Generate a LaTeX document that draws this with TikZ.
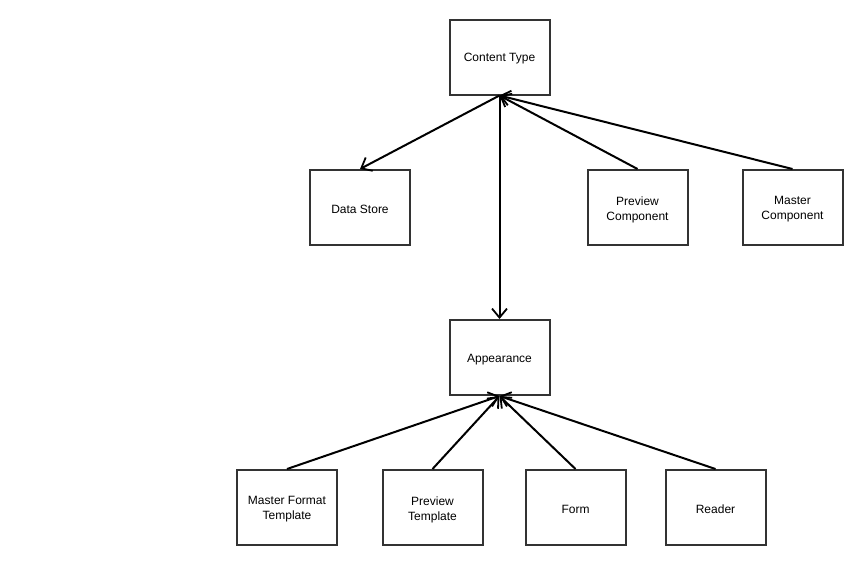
\documentclass[tikz,border=0pt]{standalone}
\usepackage{fontspec}
\setmainfont{Liberation Sans}
\usetikzlibrary{arrows.meta}
\begin{document}
\begin{tikzpicture}[x=1pt,y=-1pt,
  box/.style={draw=black!80,line width=2pt,minimum width=100pt,minimum height=75pt,inner sep=0pt},
  txt/.style={yshift=-2pt,align=center,font=\fontsize{12}{15}\selectfont,inner sep=0pt},
  conn/.style={line width=2pt,-{Straight Barb[length=9pt,width=15pt,line width=1.8pt]}}]
\useasboundingbox (0,0) rectangle (868,565);
\node[box,label={[txt]center:Content Type}] (ct) at (499.5,57) {};
\node[box,label={[txt]center:Data Store}] (ds) at (360,207.5) {};
\node[box,label={[txt]center:{Preview\\Component}}] (pc) at (637.5,207.5) {};
\node[box,label={[txt]center:{Master\\Component}}] (mc) at (792.5,207.5) {};
\node[box,label={[txt]center:Appearance}] (ap) at (499.5,357.5) {};
\node[box,label={[txt]center:{Master Format\\Template}}] (mft) at (287,507.5) {};
\node[box,label={[txt]center:{Preview\\Template}}] (pt) at (432.5,507.5) {};
\node[box,label={[txt]center:Form}] (fm) at (575.5,507.5) {};
\node[box,label={[txt]center:Reader}] (rd) at (715.5,507.5) {};
\draw[conn] (ct.south) -- (ds.north);
\draw[conn] (pc.north) -- (ct.south);
\draw[conn] (mc.north) -- (ct.south);
\draw[conn] (ct.south) -- (ap.north);
\draw[conn] (mft.north) -- (ap.south);
\draw[conn] (pt.north) -- (ap.south);
\draw[conn] (fm.north) -- (ap.south);
\draw[conn] (rd.north) -- (ap.south);
\end{tikzpicture}
\end{document}
